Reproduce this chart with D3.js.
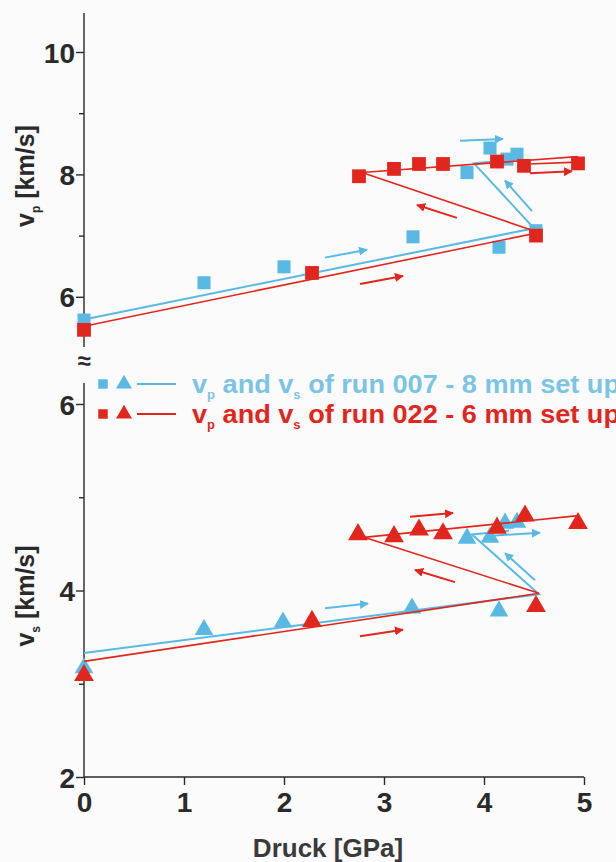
<!DOCTYPE html>
<html>
<head>
<meta charset="utf-8">
<script src="https://cdn.jsdelivr.net/npm/d3@7"></script>
<style>
  body { margin: 0; background: #fbfbfb; }
  svg { display: block; }
  text { font-family: "Liberation Sans Narrow", "Liberation Sans", Arial, sans-serif; font-weight: bold; }
</style>
</head>
<body>
<script>
var width = 616, height = 862;

var blue = "#5ab9e3", red = "#e1261e", ink = "#2a2a2a";

// pressure ticks
var xTicks = [0, 1, 2, 3, 4, 5];
var vpTicks = [6, 7, 8, 9, 10];
var vsTicks = [2, 3, 4, 5, 6];

// run 007 (8 mm set up) - measured points
var run007P_x = [0, 1.2, 2.0, 3.29, 4.15, 4.52, 3.83, 4.06, 4.23, 4.33];
var run007P_v = [5.62, 6.23, 6.49, 6.98, 6.81, 7.08, 8.03, 8.43, 8.25, 8.33];
var run007S_x = [0, 1.2, 1.99, 3.28, 4.15, 3.83, 4.06, 4.21, 4.33];
var run007S_v = [3.17, 3.58, 3.66, 3.81, 3.78, 4.56, 4.57, 4.72, 4.73];

// run 022 (6 mm set up) - measured points
var run022P_x = [0, 2.28, 4.52, 2.75, 3.10, 3.35, 3.59, 4.13, 4.40, 4.94];
var run022P_v = [5.46, 6.39, 7.0, 7.97, 8.09, 8.17, 8.17, 8.21, 8.14, 8.18];
var run022S_x = [0, 2.28, 4.52, 2.74, 3.10, 3.35, 3.59, 4.13, 4.41, 4.94];
var run022S_v = [3.09, 3.67, 3.83, 4.60, 4.58, 4.65, 4.61, 4.67, 4.80, 4.72];

// trend lines (pressure, velocity) in loading order
var line007P = [[0, 5.63], [4.5, 7.12], [3.9, 8.18], [4.3, 8.24]];
var line022P = [[0, 5.52], [4.55, 7.05], [2.78, 8.03], [4.93, 8.29], [4.93, 8.2], [4.45, 8.17]];
var line007S = [[0, 3.33], [4.55, 3.96], [3.88, 4.6], [4.25, 4.64]];
var line022S = [[0, 3.24], [4.55, 3.97], [2.8, 4.57], [4.92, 4.8]];

// direction arrows [x1, v1, x2, v2]
var arrows007P = [[2.41, 6.64, 2.83, 6.77], [4.48, 7.4, 4.21, 7.9], [3.76, 8.55, 4.19, 8.58]];
var arrows022P = [[2.76, 6.21, 3.19, 6.34], [3.73, 7.29, 3.33, 7.5], [4.46, 8.02, 4.88, 8.05]];
var arrows007S = [[2.41, 3.81, 2.84, 3.86], [4.51, 4.11, 4.21, 4.40], [4.11, 4.59, 4.56, 4.62]];
var arrows022S = [[2.76, 3.51, 3.19, 3.58], [3.71, 4.09, 3.31, 4.22], [3.26, 4.79, 3.69, 4.83]];

var svg = d3.select("body").append("svg")
    .attr("width", width)
    .attr("height", height);

svg.append("rect").attr("width", width).attr("height", height).attr("fill", "#fbfbfb");

var defs = svg.append("defs");
[["blue", blue], ["red", red]].forEach(function(c) {
  defs.append("marker")
      .attr("id", "head-" + c[0])
      .attr("viewBox", "0 0 10 10")
      .attr("refX", 9).attr("refY", 5)
      .attr("markerWidth", 9).attr("markerHeight", 9)
      .attr("markerUnits", "userSpaceOnUse")
      .attr("orient", "auto")
    .append("path")
      .attr("d", "M0,0L10,5L0,10z")
      .attr("fill", c[1]);
});

var x = d3.scaleLinear().domain([0, 5]).range([84, 584]);
var yP = d3.scaleLinear().domain([6, 10]).range([296.8, 52]);
var yS = d3.scaleLinear().domain([2, 6]).range([777, 404]);

// ---- axes ----
function yAxis(scale, ticks, top, bottom) {
  var g = svg.append("g").attr("transform", "translate(84,0)");
  g.call(d3.axisLeft(scale).tickValues(ticks).tickSize(8)
      .tickFormat(function(d) { return d % 2 === 0 ? d : ""; }));
  g.select(".domain").remove();
  g.append("line").attr("x1", 0).attr("x2", 0).attr("y1", top).attr("y2", bottom)
      .attr("stroke", ink).attr("stroke-width", 1.4);
  g.selectAll(".tick line").attr("stroke", ink).attr("stroke-width", 1.4)
      .attr("x2", function(d) { return d % 2 === 0 ? -8 : -5; });
  g.selectAll(".tick text")
      .attr("fill", ink)
      .attr("font-size", 28)
      .attr("font-family", null)
      .attr("x", -9)
      .attr("dy", "0.36em");
}
yAxis(yP, vpTicks, 13, 347);
yAxis(yS, vsTicks, 383, 777);

var gx = svg.append("g").attr("transform", "translate(0,777)");
gx.call(d3.axisBottom(x).tickValues(xTicks).tickSize(8).tickFormat(d3.format("d")));
gx.select(".domain").remove();
gx.append("line").attr("x1", 84).attr("x2", 584).attr("stroke", ink).attr("stroke-width", 1.4);
gx.selectAll(".tick line").attr("stroke", ink).attr("stroke-width", 1.4);
gx.selectAll(".tick text")
    .attr("fill", ink)
    .attr("font-size", 28)
    .attr("font-family", null)
    .attr("y", 15)
    .attr("dy", "0.71em");

// axis break
svg.append("text").attr("x", 84).attr("y", 369).attr("text-anchor", "middle")
    .attr("font-size", 24).attr("font-weight", "normal").attr("fill", ink).text("\u2248");

// axis titles
function yTitle(cy, sub) {
  var t = svg.append("text")
      .attr("transform", "translate(34," + cy + ") rotate(-90)")
      .attr("text-anchor", "middle")
      .attr("font-size", 25)
      .attr("fill", ink);
  t.append("tspan").text("v");
  t.append("tspan").attr("font-size", 12).attr("dy", 6).text(sub);
  t.append("tspan").attr("dy", -6).text(" [km/s]");
}
yTitle(176, "p");
yTitle(596, "s");

svg.append("text").attr("x", 328).attr("y", 857).attr("text-anchor", "middle")
    .attr("font-size", 26).attr("fill", "#3a3a3a").text("Druck [GPa]");

// ---- data ----
var line = d3.line();

function trend(pts, y, color, w) {
  svg.append("path")
      .attr("d", line(pts.map(function(p) { return [x(p[0]), y(p[1])]; })))
      .attr("fill", "none")
      .attr("stroke", color)
      .attr("stroke-width", w);
}

function arrows(list, y, color, name) {
  svg.append("g").selectAll("line").data(list).enter().append("line")
      .attr("x1", function(d) { return x(d[0]); })
      .attr("y1", function(d) { return y(d[1]); })
      .attr("x2", function(d) { return x(d[2]); })
      .attr("y2", function(d) { return y(d[3]); })
      .attr("stroke", color)
      .attr("stroke-width", 2)
      .attr("marker-end", "url(#head-" + name + ")");
}

function points(xs, vs, y, color, type, size) {
  svg.append("g").selectAll("path").data(xs).enter().append("path")
      .attr("transform", function(d, i) { return "translate(" + x(d) + "," + y(vs[i]) + ")"; })
      .attr("d", d3.symbol().type(type).size(size))
      .attr("fill", color);
}

trend(line007P, yP, blue, 2);
trend(line007S, yS, blue, 2);
arrows(arrows007P, yP, blue, "blue");
arrows(arrows007S, yS, blue, "blue");
points(run007P_x, run007P_v, yP, blue, d3.symbolSquare, 170);
points(run007S_x, run007S_v, yS, blue, d3.symbolTriangle, 150);

trend(line022P, yP, red, 1.6);
trend(line022S, yS, red, 1.6);
arrows(arrows022P, yP, red, "red");
arrows(arrows022S, yS, red, "red");
points(run022P_x, run022P_v, yP, red, d3.symbolSquare, 190);
points(run022S_x, run022S_v, yS, red, d3.symbolTriangle, 170);

// ---- legend ----
var legendRows = [
  { color: blue, text: "#7cc4e3", run: "007", setup: "8", y: 384 },
  { color: red, text: red, run: "022", setup: "6", y: 414 }
];

legendRows.forEach(function(r) {
  var g = svg.append("g");
  g.append("path").attr("transform", "translate(103," + r.y + ")")
      .attr("d", d3.symbol().type(d3.symbolSquare).size(90)).attr("fill", r.color);
  g.append("path").attr("transform", "translate(124," + r.y + ")")
      .attr("d", d3.symbol().type(d3.symbolTriangle).size(110)).attr("fill", r.color);
  g.append("line").attr("x1", 137).attr("x2", 176).attr("y1", r.y).attr("y2", r.y)
      .attr("stroke", r.color).attr("stroke-width", 2);
  var t = g.append("text").attr("x", 192).attr("y", r.y + 9)
      .attr("font-size", 25).attr("fill", r.text)
      .attr("textLength", 428).attr("lengthAdjust", "spacingAndGlyphs");
  t.append("tspan").text("v");
  t.append("tspan").attr("font-size", 12).attr("dy", 6).text("p");
  t.append("tspan").attr("dy", -6).text(" and v");
  t.append("tspan").attr("font-size", 12).attr("dy", 6).text("s");
  t.append("tspan").attr("dy", -6).text(" of run " + r.run + " - " + r.setup + " mm set up");
});
</script>
</body>
</html>
